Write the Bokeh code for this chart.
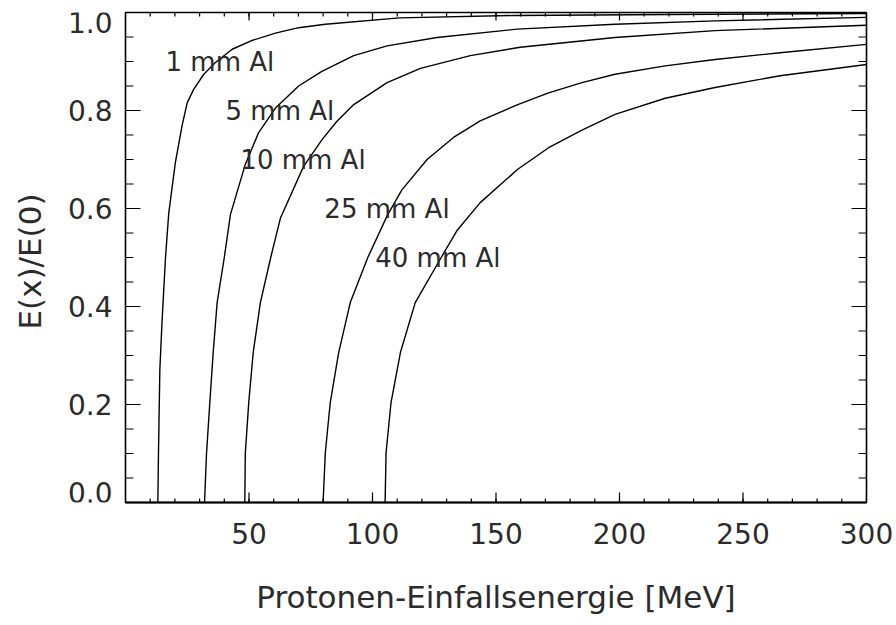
import math
from bokeh.plotting import figure
from bokeh.layouts import row
from bokeh.models import FixedTicker, Range1d, ColumnDataSource
from bokeh.core.properties import value
from bokeh.embed import file_html
from bokeh.resources import INLINE

# Incident proton energy [MeV] and residual energy fraction E(x)/E(0)
# behind aluminium absorbers of different thickness
e_1mm = [13.1, 13.35, 13.9, 14.8, 16.2, 17.5, 20.2, 22.9, 25.0, 27.6, 31.7,
         36.4, 43.2, 51.3, 60.7, 70.1, 80.9, 111.0, 158.0, 220.0, 300.0]
r_1mm = [0.0, 0.10, 0.27, 0.37, 0.50, 0.59, 0.694, 0.769, 0.816, 0.843, 0.874,
         0.898, 0.925, 0.943, 0.958, 0.969, 0.976, 0.989, 0.994, 0.996, 0.998]

e_5mm = [32.0, 32.8, 34.4, 35.5, 37.1, 40.0, 42.5, 48.5, 53.9, 60.7, 70.1,
         79.5, 92.4, 105.9, 126.1, 158.5, 198.2, 238.7, 300.0]
r_5mm = [0.0, 0.10, 0.224, 0.306, 0.408, 0.50, 0.588, 0.690, 0.755, 0.805, 0.850,
         0.880, 0.912, 0.932, 0.949, 0.966, 0.976, 0.983, 0.99]

e_10mm = [48.3, 48.5, 49.9, 51.7, 54.6, 58.8, 62.7, 72.1, 79.5, 85.6, 92.4,
          105.9, 119.4, 139.6, 159.8, 198.2, 238.7, 300.0]
r_10mm = [0.0, 0.10, 0.204, 0.306, 0.408, 0.50, 0.580, 0.686, 0.740, 0.778, 0.812,
          0.857, 0.886, 0.912, 0.929, 0.949, 0.963, 0.974]

e_25mm = [80.0, 80.9, 82.9, 86.3, 91.0, 98.1, 105.9, 111.9, 122.1, 132.8, 143.6,
          158.8, 171.3, 184.8, 198.2, 218.5, 238.7, 265.0, 300.0]
r_25mm = [0.0, 0.102, 0.204, 0.306, 0.408, 0.50, 0.585, 0.638, 0.700, 0.745, 0.779,
          0.812, 0.836, 0.857, 0.874, 0.891, 0.904, 0.918, 0.935]

e_40mm = [105.1, 105.5, 107.5, 111.3, 117.3, 127.8, 134.2, 143.6, 158.8, 171.3,
          184.8, 198.2, 218.5, 238.7, 265.0, 300.0]
r_40mm = [0.0, 0.102, 0.204, 0.306, 0.408, 0.50, 0.555, 0.612, 0.680, 0.724,
          0.760, 0.792, 0.825, 0.847, 0.871, 0.894]

# Curve labels: text, left x [MeV], baseline y
label_text = ["1 mm Al", "5 mm Al", "10 mm Al", "25 mm Al", "40 mm Al"]
label_x = [16.2, 40.5, 46.5, 80.5, 101.1]
label_y = [0.9, 0.8, 0.7, 0.6, 0.5]

x_major = [50, 100, 150, 200, 250, 300]
x_minor = list(range(10, 300, 10))
y_major = [0.0, 0.2, 0.4, 0.6, 0.8, 1.0]
y_labels = ["0.0", "0.2", "0.4", "0.6", "0.8", "1.0"]
y_minor = [round(i * 0.05, 2) for i in range(1, 20)]

X0, X1 = 0, 300
Y0, Y1 = 0.0, 1.0

FONT = "DejaVu Sans"
INK = "#2b2b2b"

# page geometry (pixels)
W, H = 896, 625
LEFT_W = 123            # strip that holds the y tick labels and y title
TOP, BOTTOM, RIGHT = 12, 123, 30

y_range = Range1d(Y0, Y1)

p = figure(width=W - LEFT_W, height=H, x_range=Range1d(X0, X1), y_range=y_range,
           output_backend="svg", toolbar_location=None, y_axis_location=None,
           min_border_left=2, min_border_right=RIGHT,
           min_border_top=TOP, min_border_bottom=BOTTOM)
p.grid.visible = False
p.outline_line_color = "black"
p.outline_line_width = 1.6
p.background_fill_color = "white"
p.border_fill_color = "white"

for e, r in [(e_1mm, r_1mm), (e_5mm, r_5mm), (e_10mm, r_10mm),
             (e_25mm, r_25mm), (e_40mm, r_40mm)]:
    p.line(e, r, line_color="black", line_width=1.4, line_join="round")

# inward-pointing ticks on all four sides; the frame clips the outer half
def ticks(xs, ys, length, angle):
    p.scatter(xs, ys, marker="dash", size=2 * length, angle=angle,
              line_color="black", line_width=1.2)

vert = math.pi / 2
ticks(x_major, [Y0] * len(x_major), 10, vert)
ticks(x_minor, [Y0] * len(x_minor), 4, vert)
ticks(x_major, [Y1] * len(x_major), 8, vert)
ticks(x_minor, [Y1] * len(x_minor), 4, vert)
ticks([X0] * len(y_major), y_major, 15, 0)
ticks([X0] * len(y_minor), y_minor, 8, 0)
ticks([X1] * len(y_major), y_major, 15, 0)
ticks([X1] * len(y_minor), y_minor, 8, 0)

p.text(x=label_x, y=label_y, text=label_text, text_font=value(FONT),
       text_font_size="26px", text_color=INK, text_align="left",
       text_baseline="alphabetic")

# bottom axis: labels only, ticks are drawn inside the frame
xb = p.xaxis[0]
xb.ticker = FixedTicker(ticks=x_major, minor_ticks=x_minor)
xb.axis_label = "Protonen-Einfallsenergie [MeV]"
xb.axis_line_color = "black"
xb.axis_line_width = 2
xb.major_tick_in = 0
xb.major_tick_out = 0
xb.minor_tick_in = 0
xb.minor_tick_out = 0
xb.major_label_text_font = FONT
xb.major_label_text_font_size = "28px"
xb.major_label_text_color = INK
xb.major_label_standoff = 20
xb.axis_label_text_font = FONT
xb.axis_label_text_font_size = "31px"
xb.axis_label_text_font_style = "normal"
xb.axis_label_text_color = INK
xb.axis_label_standoff = 32

# left strip: same vertical range and borders as the main frame,
# one x unit per pixel
side = figure(width=LEFT_W, height=H, x_range=Range1d(0, LEFT_W), y_range=y_range,
              output_backend="svg", toolbar_location=None,
              x_axis_location=None, y_axis_location=None,
              min_border_left=0, min_border_right=0,
              min_border_top=TOP, min_border_bottom=BOTTOM)
side.grid.visible = False
side.outline_line_color = None
side.background_fill_color = "white"
side.border_fill_color = "white"

# end labels sit slightly inside the frame (offsets in pixels, downward)
nudge = [-10 if v == Y0 else (10 if v == Y1 else 0) for v in y_major]
side.text(x="x", y="y", text="t", y_offset="dy",
          source=ColumnDataSource(dict(x=[LEFT_W - 11] * len(y_major), y=y_major,
                                       t=y_labels, dy=nudge)),
          text_align="right", text_baseline="middle", text_font=value(FONT),
          text_font_size="28px", text_color=INK)
side.text(x=[29], y=[(Y0 + Y1) / 2], text=["E(x)/E(0)"], y_offset=[4], angle=vert,
          text_align="center", text_baseline="middle", text_font=value(FONT),
          text_font_size="31px", text_color=INK)

open("out.html", "w").write(file_html(row(side, p), INLINE))
